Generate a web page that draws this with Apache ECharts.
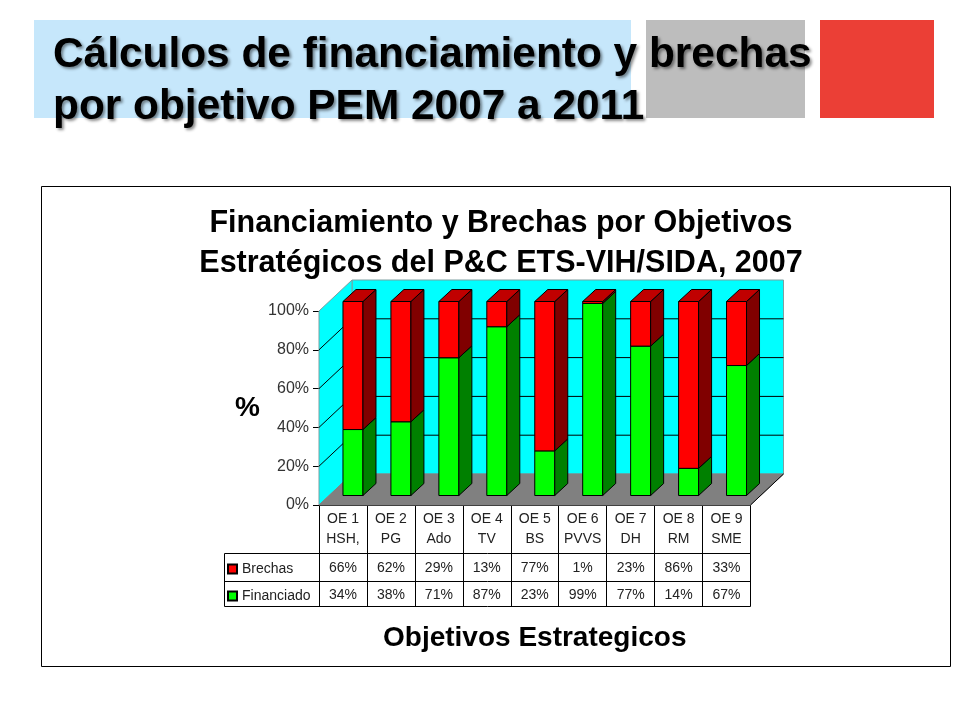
<!DOCTYPE html>
<html><head><meta charset="utf-8">
<style>html,body{margin:0;padding:0;background:#fff}#c{width:960px;height:720px}</style>
<script src="https://cdn.jsdelivr.net/npm/echarts@6/dist/echarts.min.js"></script>
</head><body><div id="c"></div>
<script>
const categories = ['OE 1\nHSH,','OE 2\nPG','OE 3\nAdo','OE 4\nTV','OE 5\nBS','OE 6\nPVVS','OE 7\nDH','OE 8\nRM','OE 9\nSME'];
const financiado = [34,38,71,87,23,99,77,14,67];
const brechas = [66,62,29,13,77,1,23,86,33];
const yTicks = [0,20,40,60,80,100];
const slideTitle = 'Cálculos de financiamiento y brechas\npor objetivo PEM 2007 a 2011';
const chartTitle = 'Financiamiento y Brechas por Objetivos\nEstratégicos del P&C ETS-VIH/SIDA, 2007';
const xName = 'Objetivos Estrategicos';

const FONT = '"Liberation Sans", Arial, sans-serif';
const WALL = [33,-31], BAR_OFF = [10,-9.5], BAR_D = [13,-12], BAR_W = 20;
const LINE = '#000';

function poly(pts, fill, stroke, lw){
  return {type:'polygon', shape:{points:pts}, style:{fill:fill, stroke:stroke===undefined?LINE:stroke, lineWidth:lw||1}};
}
function bar3d(face, side, top){
  return function(params, api){
    const i = api.value(0), a = api.coord([i, api.value(1)]), b = api.coord([i, api.value(2)]);
    const cx = a[0] + BAR_OFF[0], w = BAR_W/2;
    const y0 = a[1] + BAR_OFF[1], y1 = b[1] + BAR_OFF[1];
    const xl = cx-w, xr = cx+w, dx = BAR_D[0], dy = BAR_D[1];
    const ch = [
      poly([[xl,y1],[xr,y1],[xr,y0],[xl,y0]], face),
      poly([[xr,y1],[xr+dx,y1+dy],[xr+dx,y0+dy],[xr,y0]], side)
    ];
    if (top) ch.push(poly([[xl,y1],[xl+dx,y1+dy],[xr+dx,y1+dy],[xr,y1]], top));
    return {type:'group', children:ch};
  };
}
function walls(params, api){
  const cs = params.coordSys;
  const yv = api.value(0), p = api.coord([0,yv]);
  const L = cs.x, R = cs.x+cs.width, T = cs.y, B = cs.y+cs.height;
  const dx = WALL[0], dy = WALL[1], ch = [];
  if (params.dataIndex === 0){
    ch.push(poly([[L+dx,T+dy],[R+dx,T+dy],[R+dx,B+dy],[L+dx,B+dy]], '#00FFFF', '#7f9fa0'));
    ch.push(poly([[L,T],[L+dx,T+dy],[L+dx,B+dy],[L,B]], '#00FFFF', '#7f9fa0'));
    ch.push(poly([[L,B],[L+dx,B+dy],[R+dx,B+dy],[R,B]], '#808080', '#808080'));
  }
  if (yv > 0 && yv < 100) {
    const line = (x1,y1,x2,y2)=>({type:'line', shape:{x1,y1,x2,y2}, style:{stroke:LINE, lineWidth:1}});
    ch.push(line(L+dx,p[1]+dy,R+dx,p[1]+dy));
    ch.push(line(L,p[1],L+dx,p[1]+dy));
  }
  return {type:'group', children:ch};
}
function tableRow(vals, offs){
  return function(params, api){
    const i = api.value(0), p = api.coord([i,0]);
    return {type:'text', style:{x:p[0], y:p[1]+offs, text:vals[i]+'%', fill:'#222', font:'14px '+FONT, align:'center', verticalAlign:'middle'}};
  };
}
function tableLines(params, api){
  const cs = params.coordSys, B = cs.y+cs.height, R = cs.x+cs.width, L0 = 224.5;
  const line = (x1,y1,x2,y2)=>({type:'line', shape:{x1,y1,x2,y2}, style:{stroke:LINE, lineWidth:1}});
  return {type:'group', children:[
    line(L0,B+48.5,R,B+48.5), line(L0,B+76.5,R,B+76.5), line(L0,B+101.5,R,B+101.5), line(L0,B+48.5,L0,B+101.5), line(R,B,R+33,B-31)
  ]};
}

const fin = financiado.map((v,i)=>[i,0,v]);
const bre = brechas.map((v,i)=>[i,financiado[i],financiado[i]+v]);
const idx = categories.map((c,i)=>[i]);

const chart = echarts.init(document.getElementById('c'));
chart.setOption({
  animation:false, backgroundColor:'#fff',
  title:{text:chartTitle, left:496, top:199, textAlign:'center',
    textStyle:{fontFamily:FONT, fontSize:30.5, fontWeight:'bold', color:'#000', lineHeight:40}},
  legend:{left:222, top:557, orient:'vertical', itemGap:13, itemWidth:9, itemHeight:9, icon:'rect',
    data:[{name:'Brechas'},{name:'Financiado'}],
    textStyle:{fontFamily:FONT, fontSize:14, color:'#222'}, selectedMode:false},
  grid:{left:319, top:311, width:431.5, height:194, containLabel:false},
  xAxis:{type:'category', data:categories, position:'bottom',
    axisLine:{lineStyle:{color:'#000',width:1}}, axisTick:{show:true,interval:0,length:101.5,lineStyle:{color:'#000'}},
    axisLabel:{interval:0,fontFamily:FONT,fontSize:14,color:'#222',lineHeight:20,margin:4},
    name:xName, nameLocation:'middle', nameGap:119,
    nameTextStyle:{fontFamily:FONT,fontSize:28,fontWeight:'bold',color:'#000'}},
  yAxis:{type:'value', min:0, max:100, interval:20,
    axisLine:{show:true,lineStyle:{color:'#000',width:1}}, axisTick:{show:true,length:6,lineStyle:{color:'#000'}},
    splitLine:{show:false},
    axisLabel:{fontFamily:FONT,fontSize:16,color:'#333',margin:10,formatter:'{value}%'},
    name:'%', nameLocation:'middle', nameRotate:0, nameGap:59,
    nameTextStyle:{fontFamily:FONT,fontSize:28,fontWeight:'bold',color:'#000',padding:[6,0,0,0]}},
  graphic:{elements:[
    {type:'rect',silent:true,z:-10,shape:{x:34,y:20,width:597,height:98},style:{fill:'#C6E7FB'}},
    {type:'rect',silent:true,z:-10,shape:{x:646,y:20,width:159,height:98},style:{fill:'#BDBDBD'}},
    {type:'rect',silent:true,z:-10,shape:{x:820,y:20,width:114,height:98},style:{fill:'#EB3F36'}},
    {type:'rect',silent:true,z:-10,shape:{x:41.5,y:186.5,width:909,height:480},style:{fill:'#fff',stroke:'#000',lineWidth:1}},
    {type:'text',silent:true,z:10,x:53,y:29,style:{text:slideTitle,font:'bold 42.4px '+FONT,lineHeight:52,fill:'#000',
      textShadowColor:'rgba(0,0,0,0.45)',textShadowBlur:3,textShadowOffsetX:2,textShadowOffsetY:2}}
  ]},
  series:[
    {type:'custom',name:'walls',coordinateSystem:'cartesian2d',data:yTicks.map(v=>[v]),encode:{y:0},renderItem:walls,z:1,silent:true},
    {type:'custom',name:'Financiado',coordinateSystem:'cartesian2d',data:fin,encode:{x:0,y:[1,2]},renderItem:bar3d('#00FF00','#008000',null),z:3,color:'#00FF00',itemStyle:{color:'#00FF00',borderColor:'#000',borderWidth:1}},
    {type:'custom',name:'Brechas',coordinateSystem:'cartesian2d',data:bre,encode:{x:0,y:[1,2]},renderItem:bar3d('#FF0000','#800000','#C00000'),z:3,color:'#FF0000',itemStyle:{color:'#FF0000',borderColor:'#000',borderWidth:1}},
    {type:'custom',name:'lines',coordinateSystem:'cartesian2d',data:[[0]],encode:{x:0},renderItem:tableLines,z:4,silent:true},
    {type:'custom',name:'filaB',coordinateSystem:'cartesian2d',data:idx,encode:{x:0},renderItem:tableRow(brechas,63),z:5,silent:true},
    {type:'custom',name:'filaF',coordinateSystem:'cartesian2d',data:idx,encode:{x:0},renderItem:tableRow(financiado,90),z:5,silent:true}
  ]
});
</script></body></html>
